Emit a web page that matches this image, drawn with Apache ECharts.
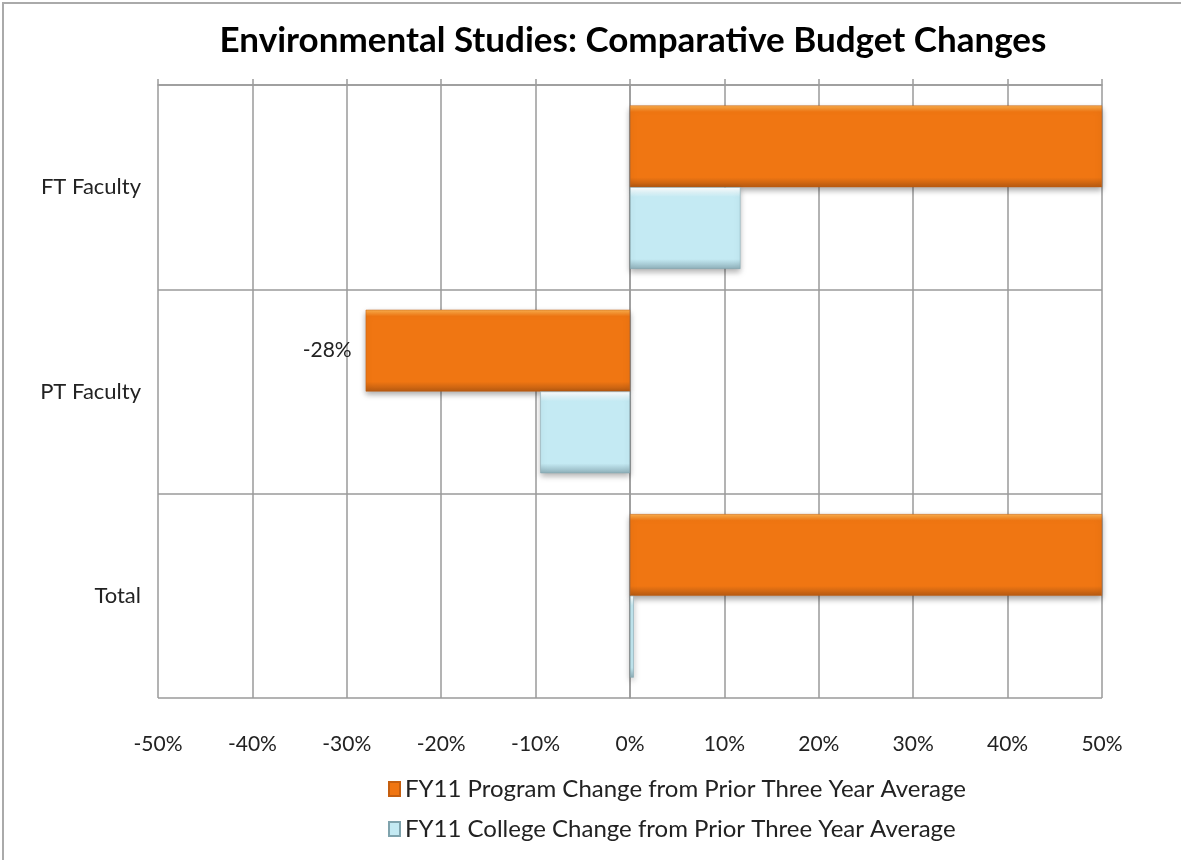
<!DOCTYPE html>
<html>
<head>
<meta charset="utf-8">
<script src="https://cdn.jsdelivr.net/npm/echarts@6/dist/echarts.min.js"></script>
<style>
  html, body { margin: 0; padding: 0; background: #fff; }
  #chart { width: 1181px; height: 860px; }
</style>
</head>
<body>
<div id="chart"></div>
<script>
// categories top -> bottom
const categories = ['FT Faculty', 'PT Faculty', 'Total']
const seriesNames = [
  'FY11 Program Change from Prior Three Year Average',
  'FY11 College Change from Prior Three Year Average'
]
// percent values (program bars run off the right edge)
const programChange = [50, -28, 50]
const collegeChange = [11.7, -9.5, 0.4]
const tickMin = -50
const tickMax = 50
const tickStep = 10

const font = 'Lato, "Open Sans", sans-serif'
const chart = echarts.init(document.getElementById('chart'))

const orange = new echarts.graphic.LinearGradient(0, 0, 0, 1, [
  { offset: 0, color: '#fbb04e' },
  { offset: 0.08, color: '#f07612' },
  { offset: 0.88, color: '#f07612' },
  { offset: 1, color: '#b65a12' }
])
const blue = new echarts.graphic.LinearGradient(0, 0, 0, 1, [
  { offset: 0, color: '#ffffff' },
  { offset: 0.12, color: '#c4eaf3' },
  { offset: 0.88, color: '#c4eaf3' },
  { offset: 1, color: '#8fb0ba' }
])

chart.setOption({
  animation: false,
  graphic: [{
    type: 'rect',
    shape: { x: 3, y: 3, width: 1190, height: 870 },
    style: { fill: 'none', stroke: '#aaaaaa', lineWidth: 2 },
    silent: true
  }],
  title: {
    text: 'Environmental Studies: Comparative Budget Changes',
    left: 628,
    textAlign: 'center',
    top: 18,
    textStyle: { fontFamily: font, fontSize: 35, fontWeight: 'bold', color: '#000' }
  },
  legend: {
    orient: 'vertical',
    left: 383,
    top: 772,
    itemGap: 16,
    itemWidth: 11,
    itemHeight: 14,
    icon: 'rect',
    textStyle: { fontFamily: font, fontSize: 24, color: '#222' },
    data: seriesNames
  },
  grid: { left: 158, right: 79, top: 85, bottom: 162 },
  xAxis: [{
    type: 'value',
    min: tickMin,
    max: tickMax,
    interval: tickStep,
    axisLabel: {
      formatter: '{value}%',
      fontFamily: font,
      fontSize: 21,
      color: '#222',
      margin: 36
    },
    axisLine: { show: false },
    axisTick: { show: false },
    splitLine: { lineStyle: { color: '#9a9a9a', width: 1.5 } }
  }, {
    type: 'value',
    position: 'top',
    min: tickMin,
    max: tickMax,
    interval: tickStep,
    axisLabel: { show: false },
    axisLine: { show: true, lineStyle: { color: '#9a9a9a', width: 1.5 } },
    axisTick: { show: true, length: 6, lineStyle: { color: '#9a9a9a', width: 1.5 } },
    splitLine: { show: false }
  }],
  yAxis: {
    type: 'category',
    inverse: true,
    data: categories,
    axisLine: { show: true, lineStyle: { color: '#9a9a9a', width: 1.5 } },
    axisTick: { show: false },
    splitLine: { show: true, lineStyle: { color: '#9a9a9a', width: 1.5 } },
    axisLabel: { fontFamily: font, fontSize: 22, color: '#222', margin: 17 }
  },
  series: [{
    name: seriesNames[0],
    type: 'bar',
    barGap: '0%',
    barCategoryGap: '20%',
    itemStyle: {
      color: orange,
      borderColor: '#c55f10',
      borderWidth: 0.5,
      shadowColor: 'rgba(0,0,0,0.35)',
      shadowBlur: 6,
      shadowOffsetY: 3
    },
    label: {
      show: true,
      position: 'left',
      distance: 14,
      fontFamily: font,
      fontSize: 21,
      color: '#222',
      formatter: p => (p.value < 0 ? p.value + '%' : '')
    },
    data: programChange
  }, {
    name: seriesNames[1],
    type: 'bar',
    itemStyle: {
      color: blue,
      borderColor: '#7fa3ad',
      borderWidth: 0.5,
      shadowColor: 'rgba(0,0,0,0.3)',
      shadowBlur: 6,
      shadowOffsetY: 3
    },
    data: collegeChange
  }]
})
</script>
</body>
</html>
